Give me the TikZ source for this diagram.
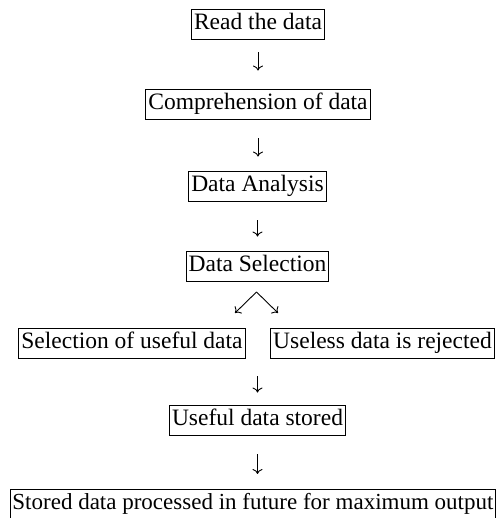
\documentclass[tikz,border=0pt]{standalone}
\usepackage{fontspec}
\setmainfont{Liberation Serif}
\usetikzlibrary{arrows.meta, positioning, calc}

\tikzset{
  stepbox/.style={draw, line width=0.9pt, inner xsep=2.5pt, inner ysep=4.5pt,
    text height=16pt, text depth=5pt, font=\fontsize{23.5}{27}\selectfont},
  flow/.style={-{To[length=5pt,width=10pt]}, line width=0.9pt}
}

\begin{document}
\begin{tikzpicture}[x=1pt,y=1pt]
                \useasboundingbox (0,0) rectangle (503,518);

                % Main chain
                \node[stepbox] (read) at (258,494) {Read the data};
                \node[stepbox] (comp) at (258,414) {Comprehension of data};
                \node[stepbox] (anal) at (257.5,332) {Data Analysis};
                \node[stepbox] (sel) at (257.5,252) {Data Selection};

                % Split
                \node[stepbox] (useful) at (132,175) {Selection of useful data};
                \node[stepbox] (reject) at (382.5,175) {Useless data is rejected};

                % Storage
                \node[stepbox] (stored) at (257.5,98) {Useful data stored};
                \node[stepbox,anchor=north west,inner xsep=2pt,font=\fontsize{23}{27}\selectfont] (final) at (10,29) {Stored data processed in future for maximum output};

                % Arrows
                \draw[flow,shorten <=13pt,shorten >=18pt] (read.south) -- (read.south |- comp.north);
                \draw[flow,shorten <=19pt,shorten >=14pt] (comp.south) -- (comp.south |- anal.north);
                \draw[flow,shorten <=19pt,shorten >=14pt] (anal.south) -- (anal.south |- sel.north);

                \coordinate (fork) at (256.5,226);
                \coordinate (forkL) at (235,205);
                \coordinate (forkR) at (278,205);
                \draw[flow] (fork) -- (forkL);
                \draw[flow] (fork) -- (forkR);

                \coordinate (merge) at (stored.north |- useful.south);
                \draw[flow,shorten <=18pt,shorten >=12pt] (merge) -- (stored.north);
                \draw[flow,shorten <=19pt,shorten >=15pt] (stored.south) -- (stored.south |- final.north);
\end{tikzpicture}
\end{document}
